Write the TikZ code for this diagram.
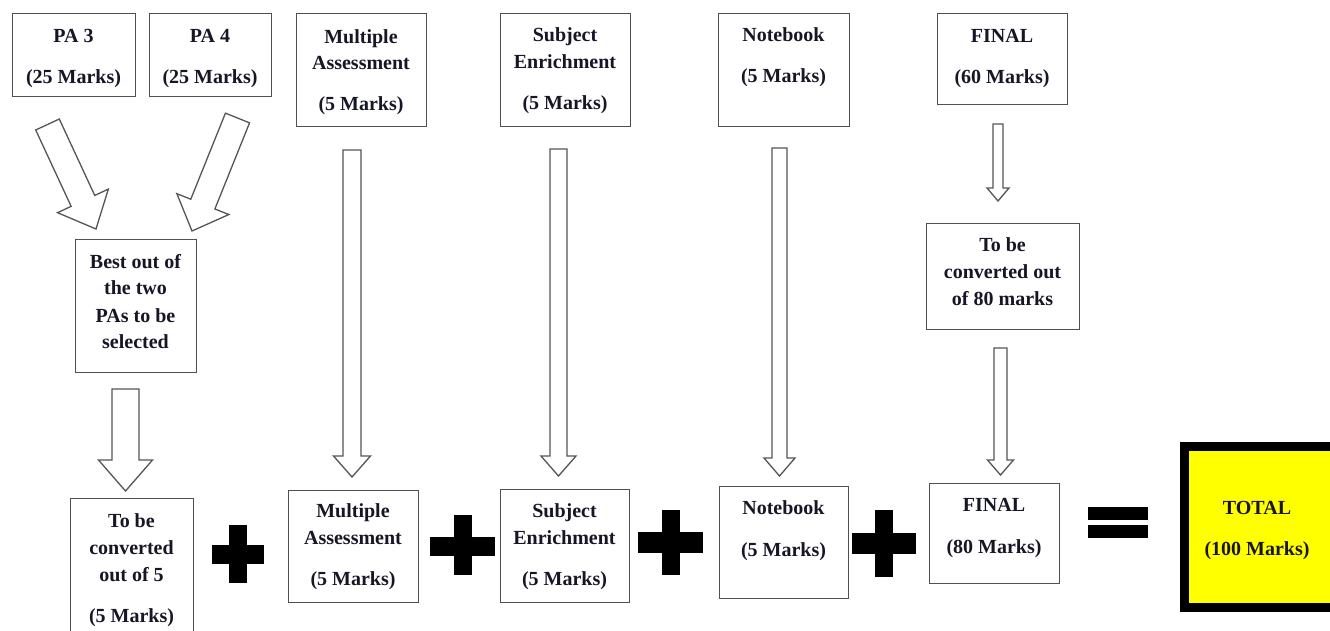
\documentclass[tikz,border=0pt]{standalone}
\usepackage{fontspec}
\setmainfont{Liberation Serif}
\usetikzlibrary{calc}
\definecolor{boxgray}{RGB}{80,80,80}
\definecolor{arrgray}{RGB}{85,85,85}
\definecolor{txtcol}{RGB}{22,22,38}
\definecolor{totyellow}{RGB}{255,255,0}
\begin{document}
\begin{tikzpicture}[x=1pt,y=-1pt,
  bx/.style={draw=boxgray, line width=1.3pt, fill=white, inner sep=0pt, anchor=north west},
  tx/.style={anchor=base, align=center, inner sep=0pt, text=txtcol,
             font=\fontsize{20}{27}\selectfont\bfseries},
  barrow/.style n args={3}{draw=arrgray, line width=1.3pt, fill=white, line join=miter,
    to path={let \p1=($(\tikztotarget)!#3!(\tikztostart)$) in
      ($(\tikztostart)!#1!90:(\tikztotarget)$) --
      ($(\p1)!#1!90:(\tikztotarget)$) --
      ($(\p1)!#2!90:(\tikztotarget)$) --
      (\tikztotarget) --
      ($(\p1)!#2!-90:(\tikztotarget)$) --
      ($(\p1)!#1!-90:(\tikztotarget)$) --
      ($(\tikztostart)!#1!-90:(\tikztotarget)$) -- cycle}},
  opsign/.style={fill=black}
]
\useasboundingbox (0,0) rectangle (1330,630);
\fill[white] (0,0) rectangle (1330,630);
\clip (0,0) rectangle (1330,630);

% ---- top row boxes (text nodes are placed at the baseline of their last line)
\node[bx, minimum width=123, minimum height=83] (pa3) at (12,13) {};
\node[tx] (pa3t) at (73.5,83) {PA 3\\[14pt](25 Marks)};
\node[bx, minimum width=122, minimum height=83] (pa4) at (149,13) {};
\node[tx] (pa4t) at (210,83) {PA 4\\[14pt](25 Marks)};
\node[bx, minimum width=130, minimum height=113] (ma1) at (296,13) {};
\node[tx] (ma1t) at (361,110) {Multiple\\[-1pt]Assessment\\[14pt](5 Marks)};
\node[bx, minimum width=130, minimum height=113] (se1) at (500,13) {};
\node[tx] (se1t) at (565,109) {Subject\\Enrichment\\[14pt](5 Marks)};
\node[bx, minimum width=131, minimum height=113] (nb1) at (718,13) {};
\node[tx] (nb1t) at (783.5,82) {Notebook\\[14pt](5 Marks)};
\node[bx, minimum width=130, minimum height=91] (fin1) at (937,13) {};
\node[tx] (fin1t) at (1002,83) {FINAL\\[14pt](60 Marks)};

% ---- middle boxes
\node[bx, minimum width=121, minimum height=133] (best) at (75,239) {};
\node[tx] (bestt) at (135.5,348) {Best out of\\[-1pt]the two\\[1pt]PAs to be\\[-1pt]selected};
\node[bx, minimum width=153, minimum height=106] (conv80) at (926,223) {};
\node[tx] (conv80t) at (1002.5,305) {To be\\converted out\\of 80 marks};

% ---- bottom row boxes
\node[bx, minimum width=123, minimum height=152] (conv5) at (70,498) {};
\node[tx] (conv5t) at (131.5,622) {To be\\converted\\out of 5\\[14pt](5 Marks)};
\node[bx, minimum width=130, minimum height=112] (ma2) at (288,490) {};
\node[tx] (ma2t) at (353,585) {Multiple\\Assessment\\[14pt](5 Marks)};
\node[bx, minimum width=129, minimum height=113] (se2) at (500,489) {};
\node[tx] (se2t) at (564.5,585) {Subject\\Enrichment\\[14pt](5 Marks)};
\node[bx, minimum width=129, minimum height=112] (nb2) at (719,486) {};
\node[tx] (nb2t) at (783.5,556) {Notebook\\[15pt](5 Marks)};
\node[bx, minimum width=130, minimum height=100] (fin2) at (929,483) {};
\node[tx] (fin2t) at (994,553) {FINAL\\[15pt](80 Marks)};
\node[draw=black, line width=9pt, fill=totyellow, inner sep=0pt, anchor=north west,
      minimum width=153, minimum height=161] (total) at (1179.5,441.5) {};
\node[tx] (totalt) at (1257,555) {TOTAL\\[14pt](100 Marks)};

% ---- arrow end points
\coordinate (d1s) at (47.5,124.5);  \coordinate (d1e) at (96,229);
\coordinate (d2s) at (237.5,118);   \coordinate (d2e) at (192,231);
\coordinate (b1s) at (125.5,389);   \coordinate (b1e) at (125.5,491);
\coordinate (m1s) at (352,150);     \coordinate (m1e) at (352,477);
\coordinate (s1s) at (558.5,149);   \coordinate (s1e) at (558.5,476);
\coordinate (n1s) at (779.5,148);   \coordinate (n1e) at (779.5,476);
\coordinate (f1s) at (998,124);     \coordinate (f1e) at (998,201);
\coordinate (f2s) at (1000.5,348);  \coordinate (f2e) at (1000.5,475);

% ---- block arrows
\draw[barrow={13pt}{28pt}{31pt}] (d1s) to (d1e);
\draw[barrow={13pt}{28pt}{29pt}] (d2s) to (d2e);
\draw[barrow={13.5pt}{27pt}{31pt}] (b1s) to (b1e);
\draw[barrow={9pt}{18.5pt}{21pt}] (m1s) to (m1e);
\draw[barrow={8.5pt}{17.5pt}{20pt}] (s1s) to (s1e);
\draw[barrow={7.5pt}{15.5pt}{18pt}] (n1s) to (n1e);
\draw[barrow={5pt}{11pt}{13pt}] (f1s) to (f1e);
\draw[barrow={6.5pt}{13pt}{15pt}] (f2s) to (f2e);

% ---- plus signs
\fill[opsign] (229,525) rectangle (247,583);
\fill[opsign] (212,545) rectangle (264,564);
\fill[opsign] (454,515) rectangle (472,575);
\fill[opsign] (430,537) rectangle (495,556);
\fill[opsign] (662,510) rectangle (680,575);
\fill[opsign] (638,532) rectangle (703,553);
\fill[opsign] (875,510) rectangle (893,577);
\fill[opsign] (852,533) rectangle (916,554);

% ---- equals sign
\fill[opsign] (1088,507) rectangle (1148,520);
\fill[opsign] (1088,525) rectangle (1148,538);
\end{tikzpicture}
\end{document}
